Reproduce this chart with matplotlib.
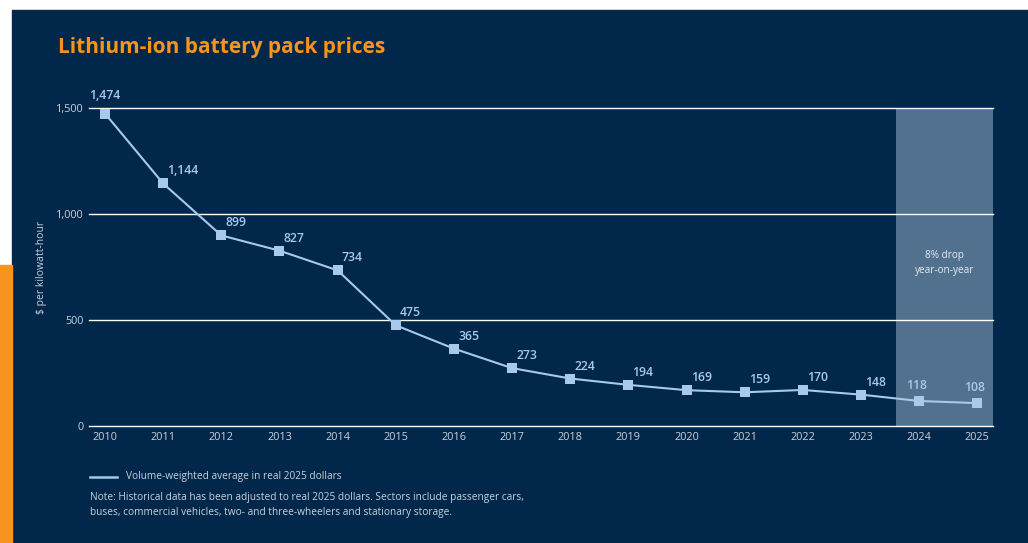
import matplotlib
matplotlib.use("Agg")
import matplotlib.pyplot as plt
from matplotlib.patches import Rectangle

# data
years = [2010, 2011, 2012, 2013, 2014, 2015, 2016, 2017,
         2018, 2019, 2020, 2021, 2022, 2023, 2024, 2025]
prices = [1474, 1144, 899, 827, 734, 475, 365, 273,
          224, 194, 169, 159, 170, 148, 118, 108]
yticks = [0, 500, 1000, 1500]
ytick_labels = ["0", "500", "1,000", "1,500"]
shade_years = [2024, 2025]

navy = "#01274a"
orange = "#f7941d"
light = "#a9c9ea"
grey_txt = "#c9d2dc"
shade = "#52718f"

plt.rcParams['font.family'] = ['Open Sans', 'DejaVu Sans']

fig = plt.figure(figsize=(10.28, 5.43), dpi=100)
fig.patch.set_facecolor("white")

# background panel + orange strip
fig.add_artist(Rectangle((12 / 1028, 0), 1 - 12 / 1028, 1 - 10 / 543,
                         transform=fig.transFigure, color=navy, zorder=0))
fig.add_artist(Rectangle((0, 0), 12 / 1028, (543 - 265) / 543,
                         transform=fig.transFigure, color=orange, zorder=0))

ax = fig.add_axes([89 / 1028, (543 - 426) / 543, (993 - 89) / 1028, 318 / 543])
ax.set_facecolor("none")
ax.set_xlim(2009.725, 2025.27)
ax.set_ylim(0, 1500)

# shaded region for latest years
ax.axvspan(shade_years[0] - 0.39, 2025.27, color=shade, zorder=1, lw=0)
ax.text((shade_years[0] - 0.39 + 2025.27) / 2, 770, "8% drop\nyear-on-year",
        ha="center", va="center", color="#e6ecf2", fontsize=7.2, linespacing=1.5,
        zorder=3)

for v in yticks:
    ax.axhline(v, color="white", lw=1.0, zorder=2, clip_on=False)

ax.plot(years, prices, color=light, lw=1.5, marker="s", markersize=7.5,
        markeredgewidth=0, zorder=4, label="Volume-weighted average in real 2025 dollars")

for i, (x, y) in enumerate(zip(years, prices)):
    lbl = f"{y:,}"
    if i == 0:
        ax.annotate(lbl, (x, y), xytext=(0, 13), textcoords="offset points",
                    ha="center", va="center", color=light, fontsize=8.8,
                    fontweight="semibold", zorder=5, annotation_clip=False)
    elif x in shade_years:
        ax.annotate(lbl, (x, y), xytext=(-2, 11), textcoords="offset points",
                    ha="center", va="center", color=light, fontsize=8.8,
                    fontweight="semibold", zorder=5)
    else:
        ax.annotate(lbl, (x, y), xytext=(3, 9), textcoords="offset points",
                    ha="left", va="center", color=light, fontsize=8.8,
                    fontweight="semibold", zorder=5)

ax.set_xticks(years)
ax.set_xticklabels([str(y) for y in years])
ax.set_yticks(yticks)
ax.set_yticklabels(ytick_labels)
ax.tick_params(axis="both", length=0, colors=grey_txt, labelsize=7.8)
ax.tick_params(axis="x", pad=4)
ax.tick_params(axis="y", pad=4)
for s in ax.spines.values():
    s.set_visible(False)

ax.set_ylabel("$ per kilowatt-hour", color=grey_txt, fontsize=7.5, labelpad=6)

fig.text(58 / 1028, 1 - 48 / 543, "Lithium-ion battery pack prices",
         color=orange, fontsize=15, fontweight="bold", va="center", ha="left")

# legend (manual)
fig.add_artist(plt.Line2D([90 / 1028, 117 / 1028], [1 - 477 / 543] * 2,
                          color=light, lw=1.8, transform=fig.transFigure))
fig.text(126 / 1028, 1 - 477 / 543, "Volume-weighted average in real 2025 dollars",
         color=grey_txt, fontsize=7.3, va="center", ha="left")

fig.text(90 / 1028, 1 - 505 / 543,
         "Note: Historical data has been adjusted to real 2025 dollars. Sectors include passenger cars,\n"
         "buses, commercial vehicles, two- and three-wheelers and stationary storage.",
         color=grey_txt, fontsize=7.3, va="center", ha="left", linespacing=1.4)

fig.savefig("out.png", dpi=100, facecolor=fig.get_facecolor())
